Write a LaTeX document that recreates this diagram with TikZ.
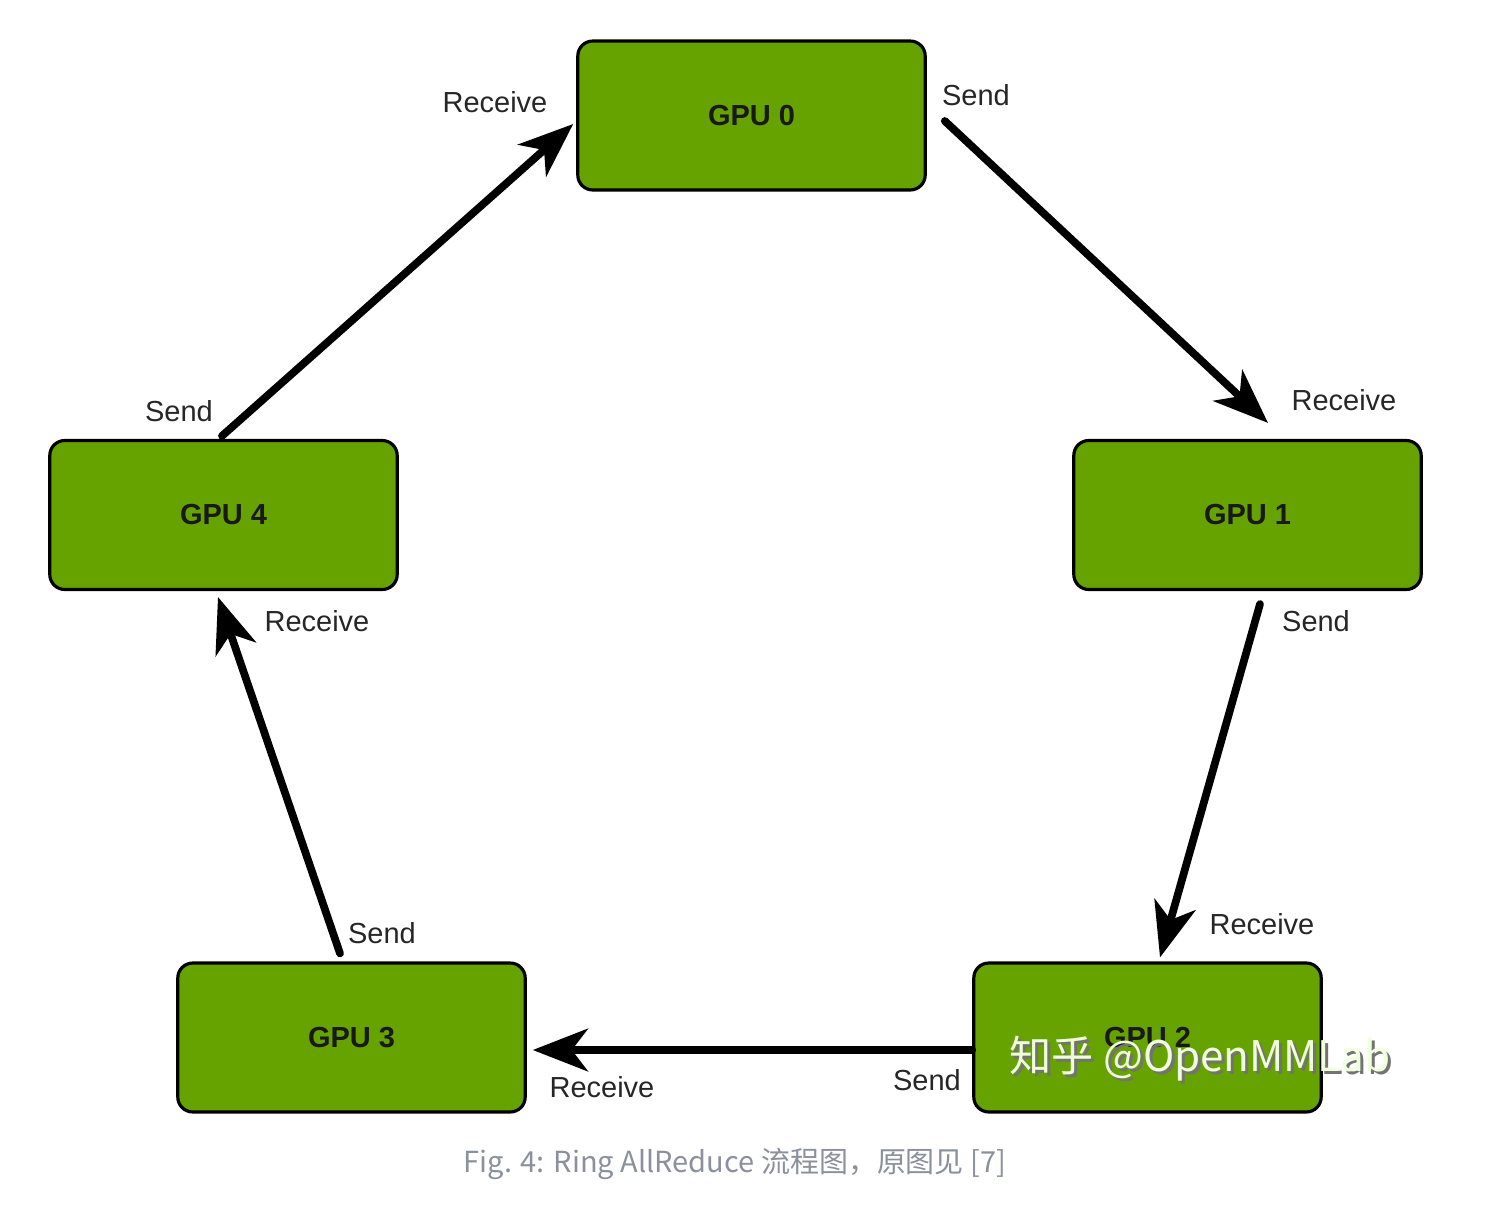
\documentclass[tikz,border=0pt]{standalone}
\usepackage{fontspec}
\setmainfont{Liberation Sans}
\newfontfamily\cjk{Noto Sans CJK SC}
\usepackage{xcolor}
\usetikzlibrary{arrows.meta}
\definecolor{gpugreen}{RGB}{102,162,0}
\definecolor{capgray}{RGB}{138,144,156}
\definecolor{wmwhite}{RGB}{240,255,220}
\tikzset{
	gpu/.style={
			draw=black, line width=1.8pt, fill=gpugreen, rounded corners=0.3cm,
			minimum width=6.95cm, minimum height=2.98cm,
			font=\fontsize{16.5}{18}\selectfont\bfseries, text=black!90
		},
	flow/.style={
			line width=4.4pt, line cap=round,
			-{Stealth[length=1.1cm, width=0.85cm, inset=0.32cm]}
		},
	tag/.style={font=\fontsize{16.5}{18}\selectfont, text=black!85}
}

\begin{document}
\begin{tikzpicture}[x=0.02cm, y=-0.02cm]

	\useasboundingbox (0,0) rectangle (1494,1204);

	% Draw the GPUs
	\node[gpu] (g0) at (751.5,115.5) {GPU 0};
	\node[gpu] (g1) at (1247.5,515) {GPU 1};
	\node[gpu] (g2) at (1147.5,1037.5) {GPU 2};
	\node[gpu] (g3) at (351.5,1037.5) {GPU 3};
	\node[gpu] (g4) at (223.5,515) {GPU 4};

	% Draw the ring
	\draw[flow] ([shift={(18,5.5)}]g0.east) -- ([shift={(20.5,-16)}]g1.north);
	\draw[flow] ([shift={(12.5,13)}]g1.south) -- ([shift={(12.5,-4)}]g2.north);
	\draw[flow] ([shift={(0,12.5)}]g2.west) -- ([shift={(6,12.5)}]g3.east);
	\draw[flow] ([shift={(-11.5,-8)}]g3.north) -- ([shift={(-5.5,6)}]g4.south);
	\draw[flow] ([shift={(-1.5,-3)}]g4.north) -- ([shift={(-3,8.5)}]g0.west);

	% Send and receive labels
	\node[tag] (r0) at (495,102) {Receive};
	\node[tag] (s0) at (976,95) {Send};
	\node[tag] (r1) at (1344,400) {Receive};
	\node[tag] (s1) at (1316,621) {Send};
	\node[tag] (r2) at (1262,924) {Receive};
	\node[tag] (s2) at (927,1080) {Send};
	\node[tag] (r3) at (602,1087) {Receive};
	\node[tag] (s3) at (382,933) {Send};
	\node[tag] (r4) at (317,621) {Receive};
	\node[tag] (s4) at (179,411) {Send};

	% Watermark
	\node[font=\cjk\fontsize{24}{28}\selectfont, text=black!55] (wmshadow) at (1203,1062) {知乎 @OpenMMLab};
	\node[font=\cjk\fontsize{24}{28}\selectfont, text=wmwhite] (wm) at (1200,1059) {知乎 @OpenMMLab};

	% Caption
	\node[font=\cjk\fontsize{16.5}{20}\selectfont, text=capgray] (cap) at (735,1164) {Fig. 4: Ring AllReduce 流程图，原图见 [7]};

\end{tikzpicture}
\end{document}
